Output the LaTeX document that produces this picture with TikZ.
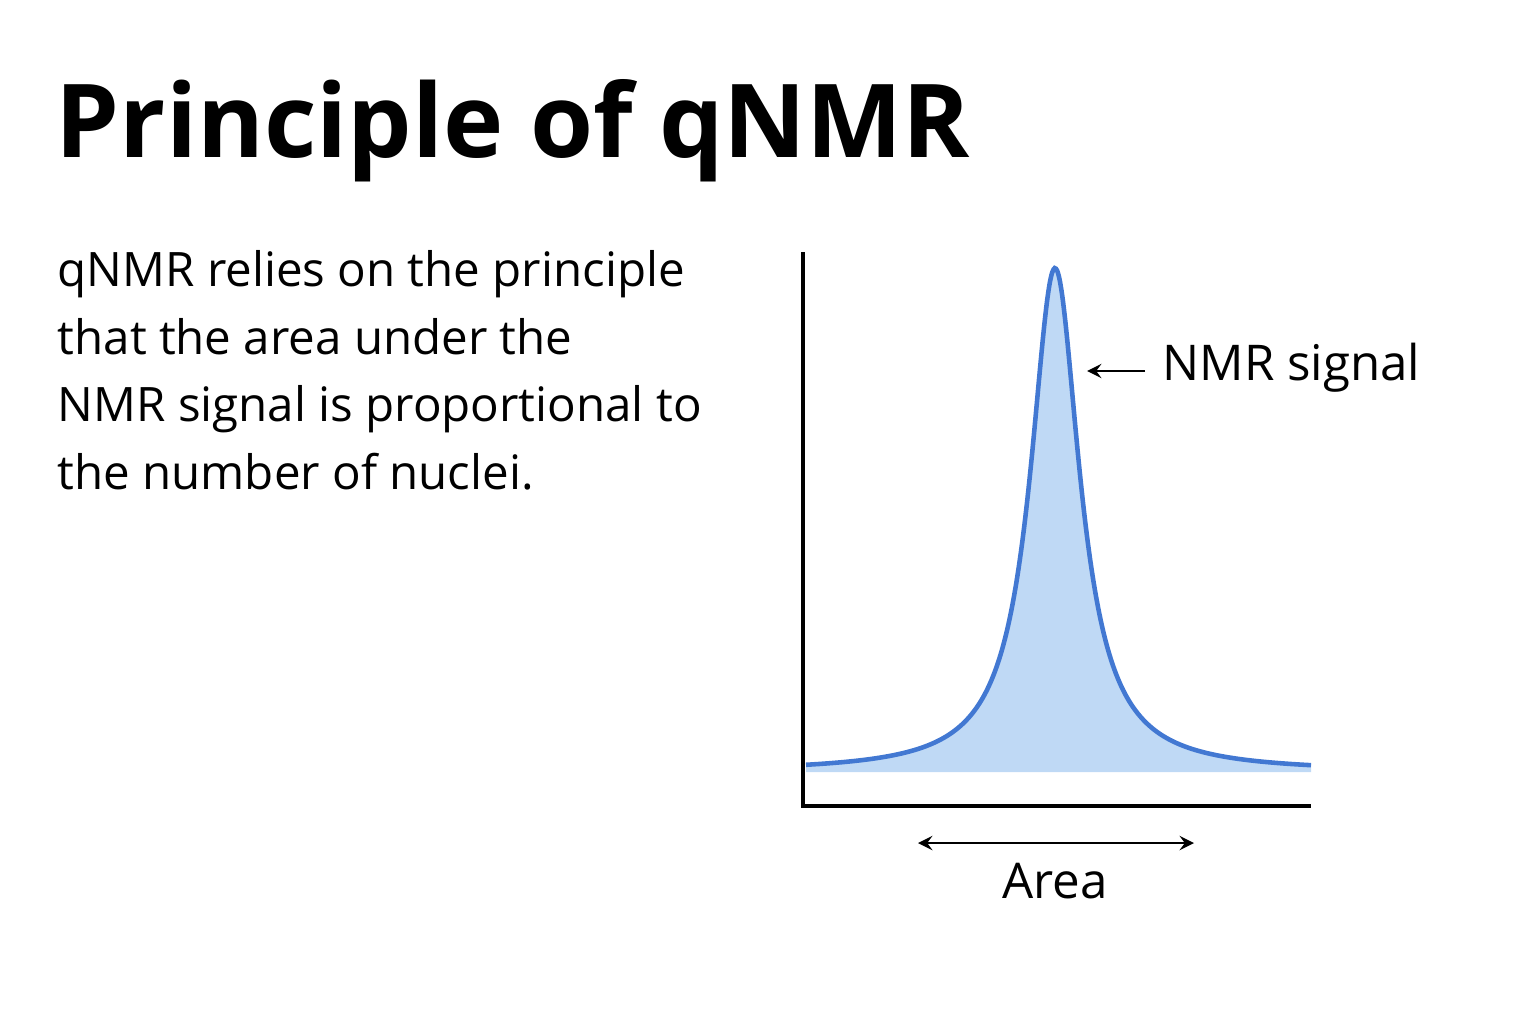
\documentclass[tikz,border=0pt]{standalone}
\usepackage{fontspec}
\setmainfont{Open Sans}
\usetikzlibrary{positioning}
\definecolor{peakline}{RGB}{66,120,210}
\definecolor{peakfill}{RGB}{191,217,245}

\begin{document}
\begin{tikzpicture}[x=0.01cm,y=-0.01cm,
	body/.style={anchor=north west,align=left,font=\fontsize{13.5}{19.2}\selectfont,inner sep=0pt},
	lbl/.style={font=\fontsize{14}{16}\selectfont,inner sep=0pt},
	pointer/.style={thick,-stealth}]

\useasboundingbox (0,0) rectangle (1536,1024);

\def\baseY{772}
\def\peakH{504}
\def\peakX{1055}
\def\peakW{30}

% title and text
\node[anchor=base west,inner sep=0pt,font=\fontsize{29}{32}\selectfont\bfseries] (title) at (55,157) {Principle of qNMR};
\node[body] (text) at (57,250) {qNMR relies on the principle\\that the area under the\\NMR signal is proportional to\\the number of nuclei.};

% peak
\fill[peakfill] (806,\baseY) -- plot[domain=806:1311,samples=200,smooth]
	(\x,{\baseY-\peakH/(1+((\x-\peakX)/\peakW)^2)}) -- (1311,\baseY) -- cycle;
\draw[peakline,line width=1.3pt] plot[domain=806:1311,samples=200,smooth]
	(\x,{\baseY-\peakH/(1+((\x-\peakX)/\peakW)^2)});

% axes
\draw[line width=1.1pt] (803,252) -- (803,806) -- (1311,806);

% labels
\node[lbl,anchor=west] (signal) at (1162,368) {NMR signal};
\coordinate (tip) at (1087,371);
\draw[pointer] (signal.west|-tip) ++(-17,0) -- (tip);

\coordinate (areaL) at (918,843);
\coordinate (areaR) at (1194,843);
\draw[thick,stealth-stealth] (areaL) -- (areaR);
\node[lbl,anchor=north] (area) at (1055,862) {Area};

\end{tikzpicture}
\end{document}
